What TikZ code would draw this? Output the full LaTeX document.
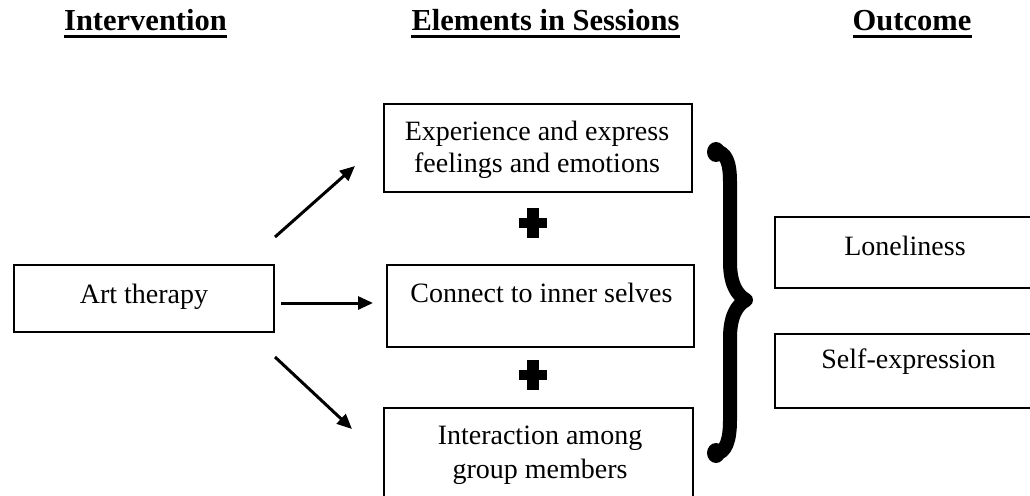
\documentclass[tikz,border=0pt]{standalone}
\usepackage{fontspec}
\setmainfont{Liberation Serif}
\usetikzlibrary{arrows.meta,calc}
\begin{document}
\begin{tikzpicture}[x=1pt,y=-1pt,
  box/.style={draw, line width=2.2pt, inner sep=0pt, outer sep=0pt},
  txt/.style={font=\fontsize{28pt}{32pt}\selectfont, inner sep=0pt, align=center},
  hdr/.style={font=\fontsize{30.5pt}{34pt}\selectfont\bfseries, inner sep=0pt, anchor=base},
  uline/.style={line width=3.3pt},
  arr/.style={line width=3pt, -{Triangle[length=15pt,width=13pt]}},
  bracestyle/.style={line width=14pt, line cap=round, line join=round}]
\fill[white] (0,0) rectangle (1030,495);
\useasboundingbox (0,0) rectangle (1030,495);
\clip (0,0) rectangle (1030,495);

% headers
\node[hdr] (h1) at (145.5,31) {Intervention};
\node[hdr] (h2) at (545.5,31) {Elements in Sessions};
\node[hdr] (h3) at (912,31) {Outcome};
\foreach \h in {h1,h2,h3}
  \draw[uline] ([yshift=-5.7pt]\h.base west) -- ([yshift=-5.7pt]\h.base east);

% boxes
\node[box, minimum width=260pt, minimum height=67pt] (art) at (144,298.5) {};
\node[box, minimum width=308pt, minimum height=88pt] (exp) at (538,148) {};
\node[box, minimum width=307pt, minimum height=82pt] (inner) at (540.5,306) {};
\node[box, minimum width=309pt, minimum height=94pt] (grp) at (538.5,455) {};
\node[box, minimum width=262pt, minimum height=71pt] (lone) at (906,252.5) {};
\node[box, minimum width=262pt, minimum height=74pt] (self) at (906,371) {};

% texts
\node[txt, anchor=base] (tart) at (144,303) {Art therapy};
\node[txt] (texp) at (537,150) {Experience and express\\feelings and emotions};
\node[txt, anchor=base] (tinner) at (541.5,302) {Connect to inner selves};
\node[txt, font=\fontsize{28pt}{34pt}\selectfont] (tgrp) at (540,455.5) {Interaction among\\group members};
\node[txt, anchor=base] (tlone) at (905,255) {Loneliness};
\node[txt, anchor=base] (tself) at (908.5,368) {Self-expression};

% arrows
\coordinate (a1s) at (275,237);
\coordinate (a1e) at (355,166);
\coordinate (a2s) at (281,303);
\coordinate (a2e) at (373,303);
\coordinate (a3s) at (275,357);
\coordinate (a3e) at (352,429);
\draw[arr] (a1s) -- (a1e);
\draw[arr] (a2s) -- (a2e);
\draw[arr] (a3s) -- (a3e);

% plus signs
\coordinate (p1) at (533.3,223.3);
\coordinate (p2) at (533.3,375);
\foreach \p in {p1,p2}{
  \fill ($(\p)+(-14,-5)$) rectangle ($(\p)+(14,5)$);
  \fill ($(\p)+(-6,-15)$) rectangle ($(\p)+(6,15)$);
}

% brace
\draw[bracestyle] (715,151) .. controls (726,152) and (730,162) .. (730,182)
  -- (730,262) .. controls (730,284) and (737,295) .. (746,300)
  .. controls (737,305) and (730,316) .. (730,338)
  -- (730,420) .. controls (730,440) and (726,453) .. (715,454);
\fill (716,152) ellipse (9pt and 10pt);
\fill (716,453) ellipse (9pt and 10pt);
\end{tikzpicture}
\end{document}
